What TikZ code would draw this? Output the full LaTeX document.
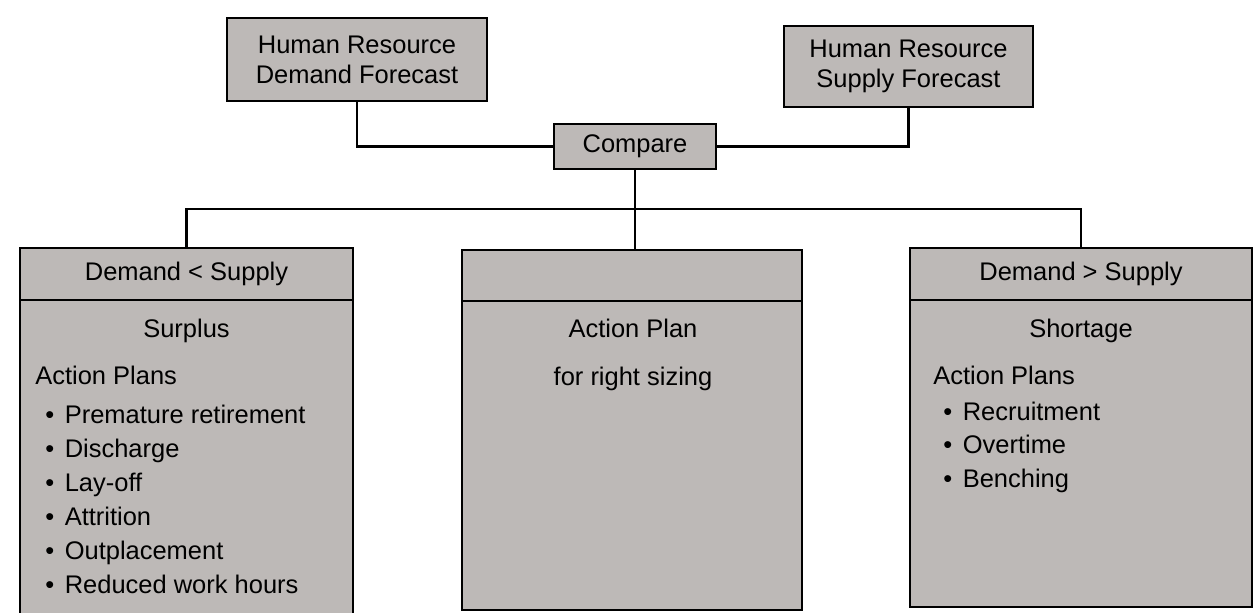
\documentclass[tikz,border=0pt]{standalone}
\usepackage{fontspec}
\setmainfont{Liberation Sans}
\usepackage{tikz}
\usetikzlibrary{positioning}
\definecolor{boxgrey}{RGB}{189,185,183}

\tikzset{
	box/.style={draw, line width=1.4pt, fill=boxgrey, inner sep=0pt, align=center, font=\fontsize{14.5}{17}\selectfont},
	txt/.style={inner sep=0pt, font=\fontsize{14.5}{17}\selectfont},
	wire/.style={line width=1.4pt}
}

\begin{document}
\begin{tikzpicture}[x=0.02cm,y=-0.02cm]
	\useasboundingbox (0,0) rectangle (1256,612);

	\node[box, minimum width=5.2cm, minimum height=1.66cm] at (357,59.5) (demand) {Human Resource\\Demand Forecast};
	\node[box, minimum width=4.98cm, minimum height=1.62cm] at (908.5,66.5) (supply) {Human Resource\\Supply Forecast};
	\node[box, minimum width=3.24cm, minimum height=0.9cm] at (635,146.5) (compare) {Compare};

	\node[box, minimum width=6.66cm, minimum height=6.28cm] at (186.5,457) (leftbody) {};
	\node[box, minimum width=6.66cm, minimum height=1.04cm] at (186.5,274) (lefthead) {Demand < Supply};
	\node[box, minimum width=6.8cm, minimum height=6.18cm] at (632,455.5) (midbody) {};
	\node[box, minimum width=6.8cm, minimum height=1.02cm] at (632,275.5) (midhead) {};
	\node[box, minimum width=6.84cm, minimum height=6.14cm] at (1081,453.5) (rightbody) {};
	\node[box, minimum width=6.84cm, minimum height=1.04cm] at (1081,274) (righthead) {Demand > Supply};

	\node[txt, anchor=base] at (186.5,337) (surplus) {Surplus};
	\node[txt, anchor=base west] at (35,384) (surplusplans) {Action Plans};
	\node[txt, anchor=base west] at (45,423) (premature) {\textbullet\hspace{6pt}Premature retirement};
	\node[txt, anchor=base west] at (45,457) (discharge) {\textbullet\hspace{6pt}Discharge};
	\node[txt, anchor=base west] at (45,491) (layoff) {\textbullet\hspace{6pt}Lay-off};
	\node[txt, anchor=base west] at (45,525) (attrition) {\textbullet\hspace{6pt}Attrition};
	\node[txt, anchor=base west] at (45,559) (outplace) {\textbullet\hspace{6pt}Outplacement};
	\node[txt, anchor=base west] at (45,593) (reduced) {\textbullet\hspace{6pt}Reduced work hours};

	\node[txt, anchor=base] at (633,337) (actionplan) {Action Plan};
	\node[txt, anchor=base] at (633,385) (rightsizing) {for right sizing};

	\node[txt, anchor=base] at (1081,337) (shortage) {Shortage};
	\node[txt, anchor=base west] at (933,384) (shortageplans) {Action Plans};
	\node[txt, anchor=base west] at (943,420) (recruit) {\textbullet\hspace{6pt}Recruitment};
	\node[txt, anchor=base west] at (943,453.5) (overtime) {\textbullet\hspace{6pt}Overtime};
	\node[txt, anchor=base west] at (943,487) (benching) {\textbullet\hspace{6pt}Benching};

	\coordinate (split) at (635,209);

	\draw[wire] (demand.south) |- (compare.west);
	\draw[wire] (supply.south) |- (compare.east);
	\draw[wire] (compare.south) -- (compare.south |- midhead.north);
	\draw[wire] (lefthead.north) |- (split) -| (righthead.north);
\end{tikzpicture}
\end{document}
